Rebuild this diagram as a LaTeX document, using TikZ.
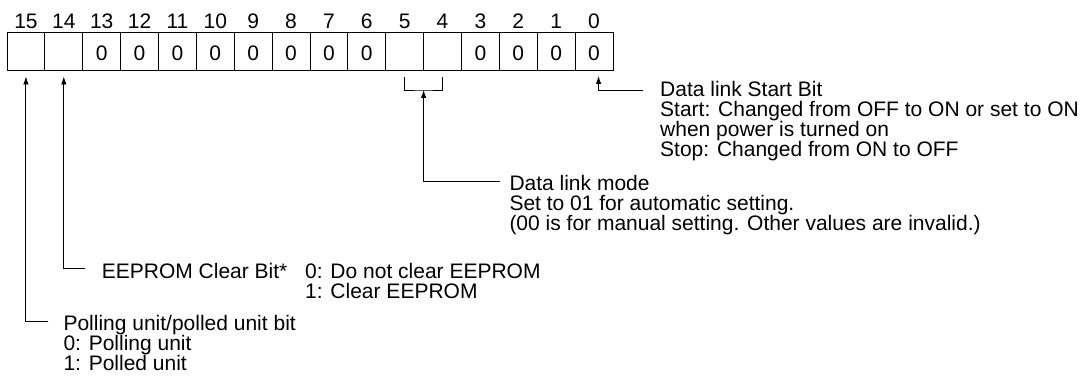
\documentclass[tikz,border=0pt]{standalone}
\usepackage{fontspec}
\setmainfont{Liberation Sans}
\usepackage{tikz}
\usetikzlibrary{positioning,calc,arrows.meta}

\begin{document}
\begin{tikzpicture}[x=1pt,y=-1pt,
    bit/.style={rectangle,draw,line width=0.9pt,minimum width=37.875pt,minimum height=38pt,inner sep=0pt,outer sep=0pt,text height=18pt,text depth=0pt,font=\fontsize{21}{20}\selectfont},
    num/.style={inner sep=0pt,font=\fontsize{21}{20}\selectfont},
    txt/.style={inner sep=0pt,align=left,font=\fontsize{21}{20}\selectfont},
    lead/.style={line width=0.9pt,-{Latex[length=8pt,width=5.5pt]},shorten >=6pt}]

\useasboundingbox (0,0) rectangle (1085,377);

\node[bit] (b15) at (25.94,51.5) {};
\node[num,above=4pt of b15,anchor=base] {15};

\node[bit] (b14) at (63.81,51.5) {};
\node[num,above=4pt of b14,anchor=base] {14};

\node[bit] (b13) at (101.69,51.5) {0};
\node[num,above=4pt of b13,anchor=base] {13};

\node[bit] (b12) at (139.56,51.5) {0};
\node[num,above=4pt of b12,anchor=base] {12};

\node[bit] (b11) at (177.44,51.5) {0};
\node[num,above=4pt of b11,anchor=base] {11};

\node[bit] (b10) at (215.31,51.5) {0};
\node[num,above=4pt of b10,anchor=base] {10};

\node[bit] (b9) at (253.19,51.5) {0};
\node[num,above=4pt of b9,anchor=base] {9};

\node[bit] (b8) at (291.06,51.5) {0};
\node[num,above=4pt of b8,anchor=base] {8};

\node[bit] (b7) at (328.94,51.5) {0};
\node[num,above=4pt of b7,anchor=base] {7};

\node[bit] (b6) at (366.81,51.5) {0};
\node[num,above=4pt of b6,anchor=base] {6};

\node[bit] (b5) at (404.69,51.5) {};
\node[num,above=4pt of b5,anchor=base] {5};

\node[bit] (b4) at (442.56,51.5) {};
\node[num,above=4pt of b4,anchor=base] {4};

\node[bit] (b3) at (480.44,51.5) {0};
\node[num,above=4pt of b3,anchor=base] {3};

\node[bit] (b2) at (518.31,51.5) {0};
\node[num,above=4pt of b2,anchor=base] {2};

\node[bit] (b1) at (556.19,51.5) {0};
\node[num,above=4pt of b1,anchor=base] {1};

\node[bit] (b0) at (594.06,51.5) {0\hspace{8pt}};
\node[num,above=4pt of b0,anchor=base] {0};

\coordinate (p0) at (643,90);
\draw[lead,shorten >=5.5pt] (p0) -| ([xshift=4.5pt]b0.south);
\node[txt,right=17pt of p0,anchor=base west,yshift=-67pt] (startbit) {Data link Start Bit\\Start: Changed from OFF to ON or set to ON\\when power is turned on\\Stop: Changed from ON to OFF};

\coordinate (br) at (423.62,90);
\draw[line width=0.9pt] ([yshift=-7pt]b5.south) |- (br) -| ([yshift=-7pt]b4.south);
\coordinate (p54) at (500,181.7);
\draw[lead,shorten >=0pt] (p54) -| (br);
\node[txt,right=9.3pt of p54,anchor=base west,yshift=-48.3pt] (mode) {Data link mode\\Set to 01 for automatic setting.\\(00 is for manual setting. Other values are invalid.)};

\coordinate (p14) at (85,268.3);
\draw[lead] (p14) -| (b14.south);
\node[txt,right=16.7pt of p14,anchor=base west,yshift=-10pt] (eeprom) {EEPROM Clear Bit*};
\node[txt,anchor=base west] (eevals) at (305,298.3) {0: Do not clear EEPROM\\1: Clear EEPROM};

\coordinate (p15) at (48.3,321.7);
\draw[lead] (p15) -| (b15.south);
\node[txt,right=15pt of p15,anchor=base west,yshift=-48.3pt] (polling) {Polling unit/polled unit bit\\0: Polling unit\\1: Polled unit};

\end{tikzpicture}
\end{document}
